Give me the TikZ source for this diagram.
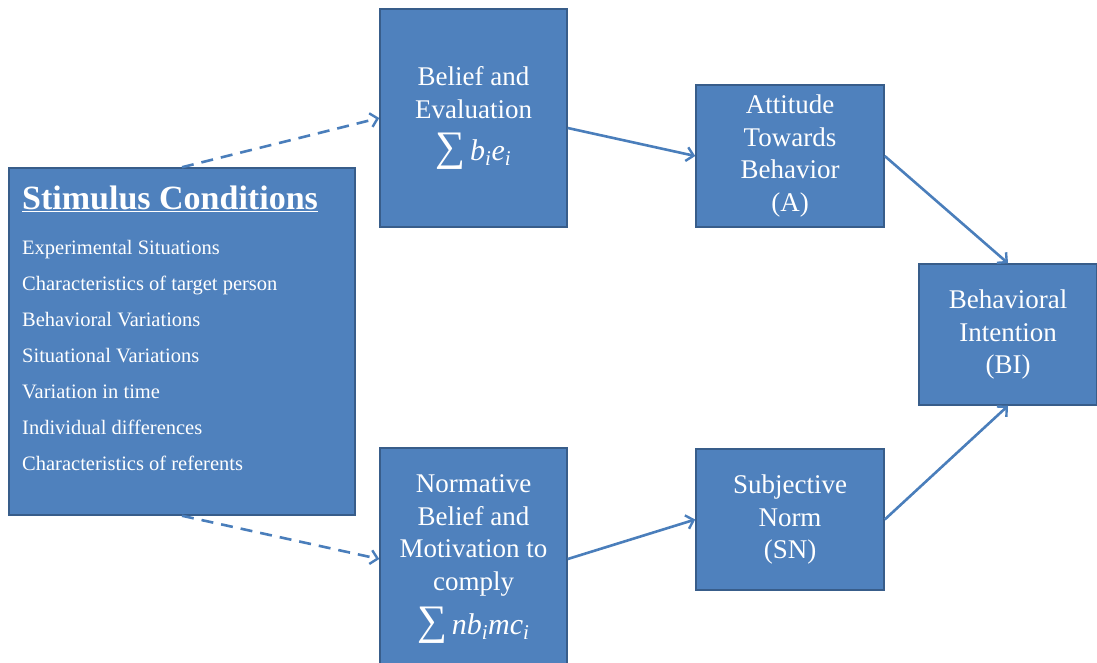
\documentclass[tikz,border=0pt]{standalone}
\usepackage{fontspec}
\setmainfont{Liberation Serif}
\usetikzlibrary{arrows.meta}
\definecolor{boxfill}{HTML}{4F81BD}
\definecolor{boxline}{HTML}{385D8A}
\definecolor{arrowc}{HTML}{4A7EBB}
\newcommand{\bigsum}{{\fontsize{42}{32}\selectfont ∑}}
\begin{document}
\begin{tikzpicture}[x=1pt,y=-1pt,
  box/.style={draw=boxline, line width=1.5pt, fill=boxfill, text=white, align=center,
    font=\fontsize{27}{32.5}\selectfont, inner sep=0pt},
  listtext/.style={anchor=base west, text=white, inner sep=0pt, font=\fontsize{20.5}{24}\selectfont},
  conn/.style={draw=arrowc, line width=2.6pt, -{Straight Barb[length=7pt,width=14pt,line width=2.4pt]}},
  dconn/.style={conn, dash pattern=on 12pt off 8pt}]
\useasboundingbox (0,0) rectangle (1097,662);
\clip (0,0) rectangle (1097,662);

\node[box, minimum width=346pt, minimum height=347pt] (stim) at (182,341.5) {};
\node[anchor=base west, text=white, inner sep=0pt, font=\bfseries\fontsize{34}{40}\selectfont] (title) at (22,209) {\underline{Stimulus Conditions}};
\foreach \t [count=\i] in {Experimental Situations, Characteristics of target person, Behavioral Variations, Situational Variations, Variation in time, Individual differences, Characteristics of referents}
  \node[listtext] (l\i) at (22,{218+36*\i}) {\t};

\node[box, minimum width=187pt, minimum height=218pt] (belief) at (473.5,118)
  {Belief and\\Evaluation\\[10pt]\bigsum\,{\fontsize{30}{32}\selectfont\textit{b\textsubscript{i}e\textsubscript{i}}}};
\node[box, minimum width=187pt, minimum height=222pt] (norm) at (473.5,559)
  {Normative\\Belief and\\Motivation to\\comply\\[10pt]\bigsum\,{\fontsize{30}{32}\selectfont\textit{nb\textsubscript{i}mc\textsubscript{i}}}};
\node[box, minimum width=188pt, minimum height=142pt] (att) at (790,156)
  {Attitude\\Towards\\Behavior\\(A)};
\node[box, minimum width=188pt, minimum height=141pt] (sn) at (790,519.5)
  {Subjective\\Norm\\(SN)};
\node[box, minimum width=178pt, minimum height=141pt] (bi) at (1008,334.5)
  {Behavioral\\Intention\\(BI)};

\draw[dconn] (stim.north) -- (belief.west);
\draw[dconn] (stim.south) -- (norm.west);
\draw[conn] ([yshift=-10pt]belief.east) -- (att.west);
\draw[conn] (norm.east) -- (sn.west);
\draw[conn] (att.east) -- (bi.north);
\draw[conn] (sn.east) -- (bi.south);
\end{tikzpicture}
\end{document}
